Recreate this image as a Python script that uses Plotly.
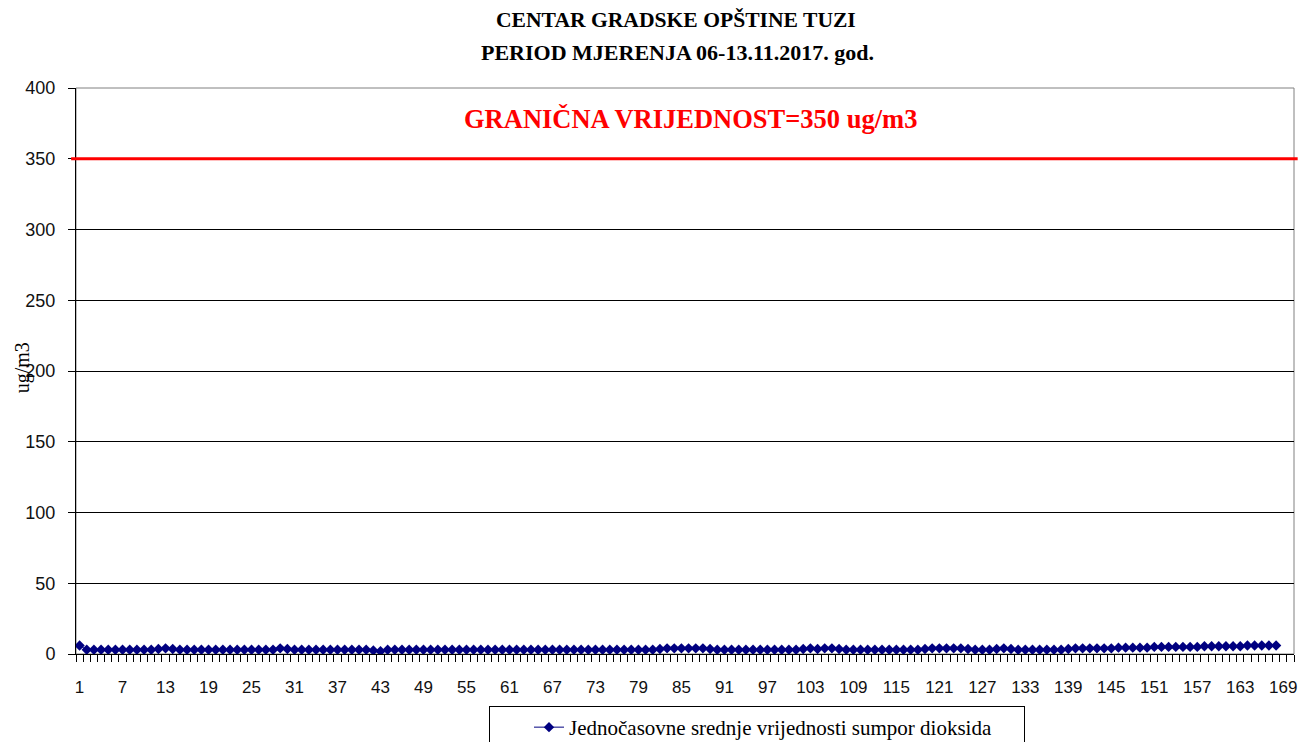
import plotly.graph_objects as go

# Hourly mean SO2 concentrations, 06-13.11.2017, hour index 1..168
hours = list(range(1, 169))
so2 = [
    6, 3, 3, 3, 3, 3, 3, 3, 3, 3, 3, 3.5,
    4, 3.5, 3, 3, 3, 3, 3, 3, 3, 3, 3, 3,
    3, 3, 3, 3, 4, 3.5, 3, 3, 3, 3, 3, 3,
    3, 3, 3, 3, 3, 2.5, 2, 3, 3, 3, 3, 3,
    3, 3, 3, 3, 3, 3, 3, 3, 3, 3, 3, 3,
    3, 3, 3, 3, 3, 3, 3, 3, 3, 3, 3, 3,
    3, 3, 3, 3, 3, 3, 3, 3, 3, 3.5, 4, 4,
    4, 4, 4, 4, 3.5, 3, 3, 3, 3, 3, 3, 3,
    3, 3, 3, 3, 3, 3.5, 4, 3.5, 4, 4, 3.5, 3,
    3, 3, 3, 3, 3, 3, 3, 3, 3, 3, 3.5, 4,
    4, 4, 4, 4, 3.5, 3, 3, 3, 3.5, 4, 3.5, 3,
    3, 3, 3, 3, 3, 3, 3.5, 4, 4, 4, 4, 4,
    4, 4.5, 4.5, 4.5, 4.5, 4.5, 5, 5, 5, 5, 5, 5,
    5, 5.5, 5.5, 5.5, 5.5, 5.5, 5.5, 6, 6, 6, 6, 6,
]
limit_value = 350
x_tick_vals = list(range(1, 170, 6))
y_tick_vals = list(range(0, 401, 50))

series_name = "Jednočasovne srednje vrijednosti sumpor dioksida"
title_line1 = "CENTAR GRADSKE OPŠTINE TUZI"
title_line2 = "PERIOD MJERENJA 06-13.11.2017. god."
limit_label = "GRANIČNA VRIJEDNOST=350 ug/m3"
y_title = "ug/m3"

serif = "Liberation Serif"
sans = "Liberation Sans"

fig = go.Figure()
fig.add_trace(go.Scatter(
    x=hours, y=so2, mode="lines+markers", name=series_name,
    line=dict(color="#000080", width=1),
    marker=dict(symbol="diamond", size=8, color="#000080"),
))

# limit line
fig.add_shape(type="line", xref="paper", yref="y", x0=-0.004, x1=1.003,
              y0=limit_value, y1=limit_value,
              line=dict(color="#ff0000", width=3))
# plot frame (top and right)
fig.add_shape(type="rect", xref="paper", yref="paper", x0=0, x1=1, y0=0, y1=1,
              line=dict(color="#808080", width=1), layer="below")

fig.add_annotation(text="<b>" + title_line1 + "</b>", xref="paper", yref="paper",
                   x=0.493, y=1.120, showarrow=False, yanchor="middle",
                   font=dict(family=serif, size=21.6, color="#000000"))
fig.add_annotation(text="<b>" + title_line2 + "</b>", xref="paper", yref="paper",
                   x=0.494, y=1.0636, showarrow=False, yanchor="middle",
                   font=dict(family=serif, size=22, color="#000000"))
fig.add_annotation(text="<b>" + limit_label + "</b>", xref="paper", yref="paper",
                   x=0.5045, y=0.946, showarrow=False, yanchor="middle",
                   font=dict(family=serif, size=26.5, color="#ff0000"))
fig.add_annotation(text=y_title, xref="paper", yref="paper", x=-0.0442, y=0.505,
                   showarrow=False, textangle=-90, xanchor="center", yanchor="middle",
                   font=dict(family=serif, size=20, color="#000000"))

fig.update_layout(
    width=1303, height=742,
    margin=dict(l=76, r=6, t=88, b=88),
    paper_bgcolor="white", plot_bgcolor="white",
    showlegend=True,
    legend=dict(xref="container", yref="container",
                x=489 / 1303, y=1 - 706 / 742, xanchor="left", yanchor="top",
                orientation="h", bordercolor="#000000", borderwidth=1,
                bgcolor="white", indentation=39, entrywidth=450,
                font=dict(family=serif, size=21, color="#000000")),
    xaxis=dict(
        range=[0.5, 170.5], tickmode="array", tickvals=x_tick_vals,
        ticks="outside", ticklen=0, ticklabelstandoff=18,
        showgrid=False, zeroline=False,
        showline=True, linecolor="#000000", linewidth=1,
        tickfont=dict(family=sans, size=17, color="#111111"),
        minor=dict(tick0=0.5, dtick=1, ticks="outside", ticklen=7,
                   tickcolor="#000000", showgrid=False),
    ),
    yaxis=dict(
        range=[0, 400], tickmode="array", tickvals=y_tick_vals,
        ticks="outside", ticklen=7, tickcolor="#000000",
        showgrid=True, gridcolor="#000000", gridwidth=1,
        zeroline=False, showline=True, linecolor="#000000", linewidth=1,
        tickfont=dict(family=sans, size=18, color="#111111"),
        ticklabelstandoff=9,
    ),
)

fig.write_html("out.html")
